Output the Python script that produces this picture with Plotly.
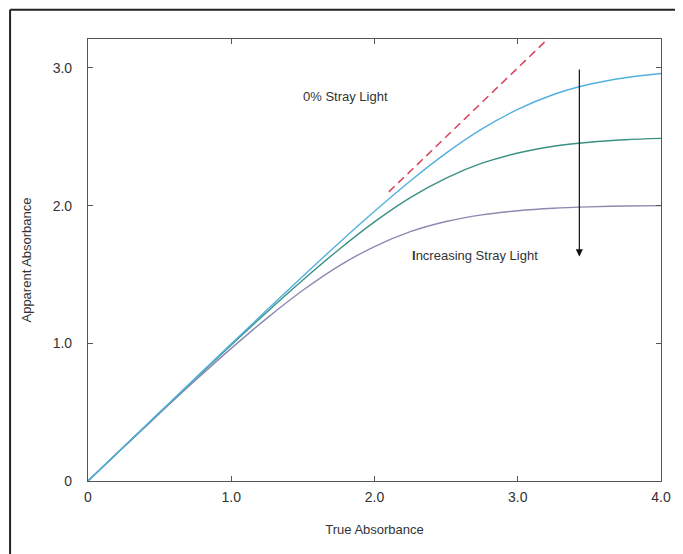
import plotly.graph_objects as go

true_abs = [0, 0.25, 0.5, 0.75, 1.0, 1.25, 1.5, 1.75, 2.0, 2.25, 2.5, 2.75, 3.0, 3.25, 3.5, 3.75, 4.0]
app_low_stray = [0, 0.250, 0.499, 0.748, 0.996, 1.243, 1.487, 1.727, 1.959, 2.179, 2.381, 2.557, 2.699, 2.807, 2.881, 2.929, 2.959]
app_mid_stray = [0, 0.249, 0.497, 0.744, 0.988, 1.228, 1.460, 1.680, 1.882, 2.058, 2.200, 2.308, 2.382, 2.431, 2.460, 2.478, 2.488]
app_high_stray = [0, 0.247, 0.491, 0.731, 0.963, 1.183, 1.385, 1.561, 1.703, 1.811, 1.885, 1.933, 1.963, 1.981, 1.991, 1.997, 2.000]
ideal_x = [2.1, 3.4]
ideal_y = [2.1, 3.4]
x_ticks = [0, 1, 2, 3, 4]
x_tick_labels = ["0", "1.0", "2.0", "3.0", "4.0"]
y_ticks = [0, 1, 2, 3]
y_tick_labels = ["0", "1.0", "2.0", "3.0"]

FONT = "Liberation Sans, Arial, sans-serif"

fig = go.Figure()
fig.add_trace(go.Scatter(x=ideal_x, y=ideal_y, mode="lines",
                         line=dict(color="#d9455e", width=1.6, dash="8px,5px"),
                         showlegend=False))
fig.add_trace(go.Scatter(x=true_abs, y=app_high_stray, mode="lines", line_shape="spline",
                         line=dict(color="#8c89b0", width=1.4), showlegend=False))
fig.add_trace(go.Scatter(x=true_abs, y=app_mid_stray, mode="lines", line_shape="spline",
                         line=dict(color="#3b9084", width=1.4), showlegend=False))
fig.add_trace(go.Scatter(x=true_abs, y=app_low_stray, mode="lines", line_shape="spline",
                         line=dict(color="#52b0de", width=1.4), showlegend=False))

axis_common = dict(showline=True, linecolor="#555555", linewidth=1.2, mirror="ticks",
                   ticks="inside", ticklen=5, tickcolor="#555555", showgrid=False,
                   zeroline=False, tickfont=dict(family=FONT, size=14, color="#333333"))

fig.update_xaxes(range=[0, 4.0], tickvals=x_ticks, ticktext=x_tick_labels,
                 title=dict(text="True Absorbance", font=dict(family=FONT, size=13, color="#333333"), standoff=20),
                 ticklabelstandoff=3, **axis_common)
fig.update_yaxes(range=[0, 3.21], tickvals=y_ticks, ticktext=y_tick_labels,
                 title=dict(text="Apparent Absorbance", font=dict(family=FONT, size=13, color="#333333"), standoff=18),
                 ticklabelstandoff=12, **axis_common)

fig.add_annotation(x=1.8, y=2.79, text="0% Stray Light", showarrow=False,
                   font=dict(family=FONT, size=13, color="#333333"))
fig.add_annotation(x=2.25, y=1.64, text="<b>I</b>ncreasing Stray Light", showarrow=False, xanchor="left",
                   font=dict(family=FONT, size=13, color="#333333"))
fig.add_annotation(x=3.43, y=1.63, ax=3.43, ay=3.0, axref="x", ayref="y", text="",
                   showarrow=True, arrowhead=2, arrowsize=1.2, arrowwidth=1.2, arrowcolor="#111111")

# outer frame (top and left edges), in paper units of the plot area (580 x 442 px)
fig.add_shape(type="line", xref="paper", yref="paper", x0=-0.136, x1=1.03, y0=1.066, y1=1.066,
              line=dict(color="#222222", width=2))
fig.add_shape(type="line", xref="paper", yref="paper", x0=-0.136, x1=-0.136, y0=1.066, y1=-0.17,
              line=dict(color="#222222", width=2))

# page body has an 8px default margin, so the figure is sized to fit 683x554 window
fig.update_layout(width=675, height=546, margin=dict(l=80, r=15, t=31, b=73),
                  plot_bgcolor="white", paper_bgcolor="white")

fig.write_html("out.html")
